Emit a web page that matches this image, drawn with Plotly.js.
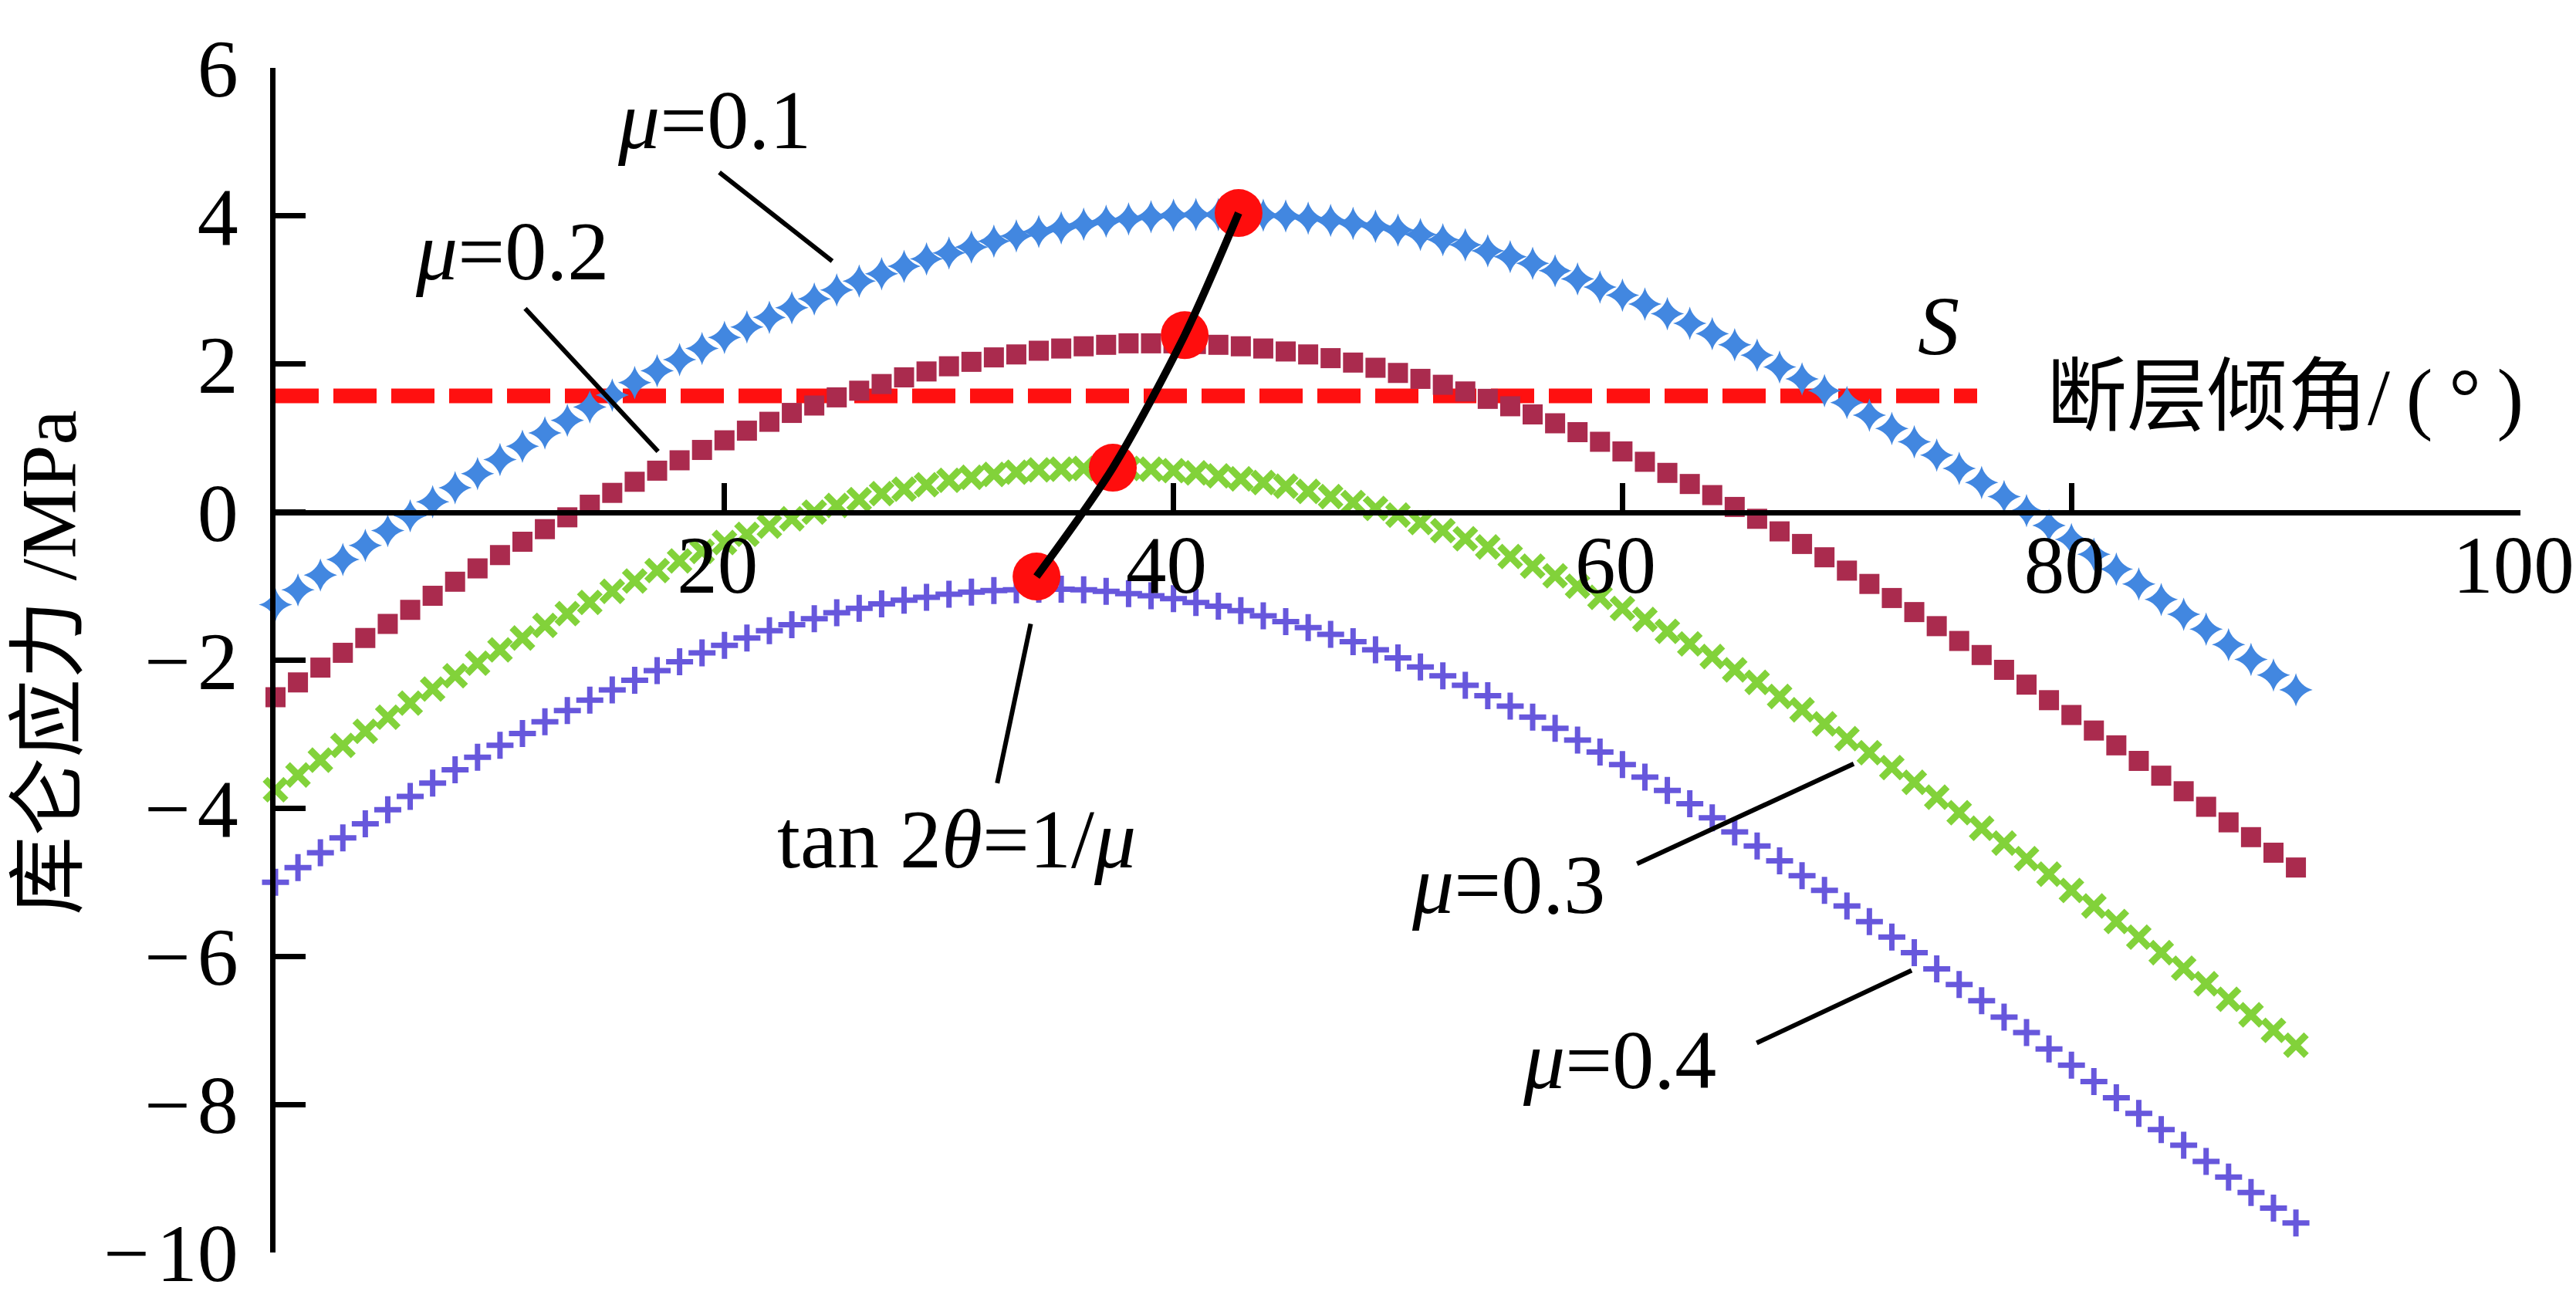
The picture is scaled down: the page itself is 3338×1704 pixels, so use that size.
<!DOCTYPE html>
<html>
<head>
<meta charset="utf-8">
<script src="https://cdn.plot.ly/plotly-3.0.1.min.js"></script>
<style>html,body{margin:0;padding:0;background:#fff;}#chart{width:3338px;height:1704px;}</style>
</head>
<body>
<div id="chart"></div>
<script>
// Fault dip angle (degrees)
const dipAngle = [0,1,2,3,4,5,6,7,8,9,10,11,12,13,14,15,16,17,18,19,20,21,22,23,24,25,26,27,28,29,30,31,32,33,34,35,36,37,38,39,40,41,42,43,44,45,46,47,48,49,50,51,52,53,54,55,56,57,58,59,60,61,62,63,64,65,66,67,68,69,70,71,72,73,74,75,76,77,78,79,80,81,82,83,84,85,86,87,88,89,90];

// Coulomb stress (MPa) for each friction coefficient
const stressMu01 = [-1.25,-1.05,-0.85,-0.64,-0.45,-0.25,-0.05,0.14,0.33,0.52,0.71,0.89,1.07,1.24,1.42,1.58,1.75,1.91,2.06,2.21,2.36,2.50,2.63,2.76,2.88,3.00,3.12,3.22,3.32,3.42,3.50,3.58,3.66,3.73,3.79,3.84,3.89,3.93,3.96,3.99,4.01,4.02,4.02,4.02,4.01,4.00,3.97,3.94,3.90,3.86,3.81,3.75,3.68,3.61,3.53,3.45,3.36,3.26,3.15,3.04,2.93,2.81,2.68,2.55,2.41,2.26,2.12,1.96,1.80,1.64,1.48,1.31,1.13,0.95,0.77,0.59,0.40,0.21,0.02,-0.18,-0.37,-0.57,-0.77,-0.97,-1.18,-1.38,-1.58,-1.79,-1.99,-2.20,-2.40];
const stressMu02 = [-2.50,-2.30,-2.10,-1.90,-1.70,-1.51,-1.32,-1.13,-0.94,-0.76,-0.58,-0.40,-0.23,-0.07,0.10,0.26,0.41,0.56,0.70,0.84,0.97,1.10,1.22,1.34,1.44,1.55,1.64,1.73,1.82,1.90,1.97,2.03,2.09,2.13,2.18,2.21,2.24,2.26,2.28,2.28,2.28,2.27,2.26,2.24,2.21,2.17,2.13,2.08,2.02,1.95,1.88,1.80,1.72,1.63,1.53,1.43,1.32,1.20,1.08,0.95,0.82,0.68,0.53,0.38,0.23,0.07,-0.09,-0.26,-0.43,-0.61,-0.79,-0.97,-1.16,-1.35,-1.54,-1.74,-1.93,-2.13,-2.33,-2.54,-2.74,-2.95,-3.15,-3.36,-3.56,-3.77,-3.98,-4.19,-4.39,-4.60,-4.80];
const stressMu03 = [-3.75,-3.55,-3.35,-3.15,-2.96,-2.77,-2.58,-2.39,-2.21,-2.04,-1.86,-1.70,-1.53,-1.37,-1.22,-1.07,-0.93,-0.79,-0.66,-0.53,-0.41,-0.30,-0.19,-0.09,0.00,0.09,0.17,0.25,0.31,0.37,0.43,0.47,0.51,0.54,0.57,0.58,0.59,0.60,0.59,0.58,0.56,0.53,0.49,0.45,0.40,0.35,0.28,0.21,0.13,0.05,-0.04,-0.14,-0.25,-0.36,-0.47,-0.60,-0.73,-0.86,-1.00,-1.15,-1.30,-1.45,-1.61,-1.78,-1.95,-2.13,-2.30,-2.49,-2.67,-2.86,-3.06,-3.25,-3.45,-3.65,-3.85,-4.06,-4.27,-4.47,-4.68,-4.89,-5.11,-5.32,-5.53,-5.74,-5.95,-6.16,-6.37,-6.58,-6.79,-7.00,-7.20];
const stressMu04 = [-5.00,-4.80,-4.60,-4.40,-4.21,-4.02,-3.84,-3.66,-3.48,-3.31,-3.15,-2.99,-2.83,-2.68,-2.54,-2.40,-2.27,-2.14,-2.02,-1.90,-1.80,-1.70,-1.60,-1.52,-1.44,-1.36,-1.30,-1.24,-1.19,-1.15,-1.11,-1.08,-1.06,-1.05,-1.04,-1.04,-1.05,-1.07,-1.10,-1.13,-1.17,-1.22,-1.27,-1.33,-1.40,-1.48,-1.56,-1.65,-1.75,-1.86,-1.97,-2.09,-2.21,-2.34,-2.48,-2.62,-2.77,-2.92,-3.08,-3.24,-3.41,-3.58,-3.76,-3.94,-4.13,-4.32,-4.51,-4.71,-4.91,-5.11,-5.32,-5.53,-5.74,-5.95,-6.17,-6.38,-6.60,-6.82,-7.03,-7.25,-7.47,-7.69,-7.91,-8.12,-8.34,-8.55,-8.77,-8.98,-9.19,-9.40,-9.60];

// Peak points (tan 2θ = 1/μ)
const peakAngle = [42.9, 40.5, 37.3, 33.9];
const peakStress = [4.04, 2.39, 0.60, -0.87];

// Threshold S line
const sLineAngle = [0, 75.8];
const sLineStress = [1.57, 1.57];

// Axis ticks
const xTickVals = [20, 40, 60, 80, 100];
const xTickText = ['20', '40', '60', '80', '100'];
const yTickVals = [6, 4, 2, 0, -2, -4, -6, -8, -10];
const yTickText = ['6', '4', '2', '0', '\u2212\u200A2', '\u2212\u200A4', '\u2212\u200A6', '\u2212\u200A8', '\u2212\u200A10'];

const FONT = 'Liberation Serif, Times New Roman, Noto Sans CJK SC, serif';

const traces = [
  {x: sLineAngle, y: sLineStress, mode: 'lines', line: {color: '#FF1010', width: 19, dash: '56px,19px'}, hoverinfo: 'skip'},
  {x: dipAngle, y: stressMu01, mode: 'markers', cliponaxis: false,
   marker: {symbol: 'star-diamond', size: 31, color: '#4287E0', line: {width: 0}}},
  {x: dipAngle, y: stressMu02, mode: 'markers', cliponaxis: false,
   marker: {symbol: 'square', size: 26, color: '#AA2B4E', line: {width: 0}}},
  {x: dipAngle, y: stressMu03, mode: 'markers', cliponaxis: false,
   marker: {symbol: 'x-thin', size: 27, color: '#82D23A', line: {width: 9, color: '#82D23A'}}},
  {x: dipAngle, y: stressMu04, mode: 'markers', cliponaxis: false,
   marker: {symbol: 'cross-thin', size: 25, color: '#6757DC', line: {width: 7, color: '#6757DC'}}},
  {x: peakAngle, y: peakStress, mode: 'markers', cliponaxis: false,
   marker: {symbol: 'circle', size: 62, color: '#FF0D0D', line: {width: 0}}},
  {x: peakAngle, y: peakStress, mode: 'lines', line: {color: '#000', width: 10, shape: 'spline', smoothing: 0.8}}
];

function leader(x0, y0, x1, y1) {
  return {type: 'line', xref: 'x', yref: 'y', x0: x0, y0: y0, x1: x1, y1: y1,
          line: {color: '#000', width: 6}, layer: 'above'};
}
function label(x, y, text, size) {
  return {xref: 'x', yref: 'y', x: x, y: y, text: text, showarrow: false,
          xanchor: 'center', yanchor: 'middle', font: {family: FONT, size: size || 108, color: '#000'}};
}

const layout = {
  width: 3338, height: 1704,
  margin: {l: 357, r: 72, t: 88, b: 81, pad: 0},
  paper_bgcolor: '#fff', plot_bgcolor: '#fff',
  showlegend: false,
  font: {family: FONT, color: '#000', size: 108},
  xaxis: {
    range: [0, 100.001], anchor: 'free', position: 0.625,
    showline: true, linecolor: '#000', linewidth: 7,
    ticks: 'inside', ticklen: 35, tickwidth: 7, tickcolor: '#000',
    tickmode: 'array', tickvals: xTickVals, ticktext: xTickText,
    tickfont: {family: FONT, size: 105, color: '#000'},
    ticklabelstandoff: -26, ticklabelshift: -9, ticklabeloverflow: 'allow',
    showgrid: false, zeroline: false
  },
  yaxis: {
    range: [-10, 6], domain: [0, 1],
    showline: true, linecolor: '#000', linewidth: 7,
    ticks: 'inside', ticklen: 39, tickwidth: 7, tickcolor: '#000',
    tickmode: 'array', tickvals: yTickVals, ticktext: yTickText,
    tickfont: {family: FONT, size: 106, color: '#000'},
    ticklabelstandoff: 20, ticklabeloverflow: 'allow',
    showgrid: false, zeroline: false
  },
  shapes: [
    leader(19.77, 4.59, 24.80, 3.39),
    leader(11.12, 2.75, 17.04, 0.82),
    leader(33.64, -1.51, 32.15, -3.66),
    leader(60.65, -4.75, 70.30, -3.40),
    leader(65.98, -7.17, 72.88, -6.19)
  ],
  annotations: [
    label(19.56, 5.30, '<i>μ</i>=0.1'),
    label(10.52, 3.52, '<i>μ</i>=0.2'),
    label(30.35, -4.42, 'tan 2<i>θ</i>=1/<i>μ</i>'),
    label(54.93, -5.03, '<i>μ</i>=0.3'),
    label(59.85, -7.40, '<i>μ</i>=0.4'),
    label(74.08, 2.51, '<i>S</i>'),
    label(89.5, 1.545, '断层倾角/\u2009(\u2009°\u2009)', 104),
    {xref: 'paper', yref: 'paper', x: -0.1010, y: 0.498, text: '库仑应力 /MPa', textangle: -90,
     showarrow: false, xanchor: 'center', yanchor: 'middle', font: {family: FONT, size: 102, color: '#000'}}
  ]
};

Plotly.newPlot('chart', traces, layout, {staticPlot: true, displayModeBar: false});
</script>
</body>
</html>
